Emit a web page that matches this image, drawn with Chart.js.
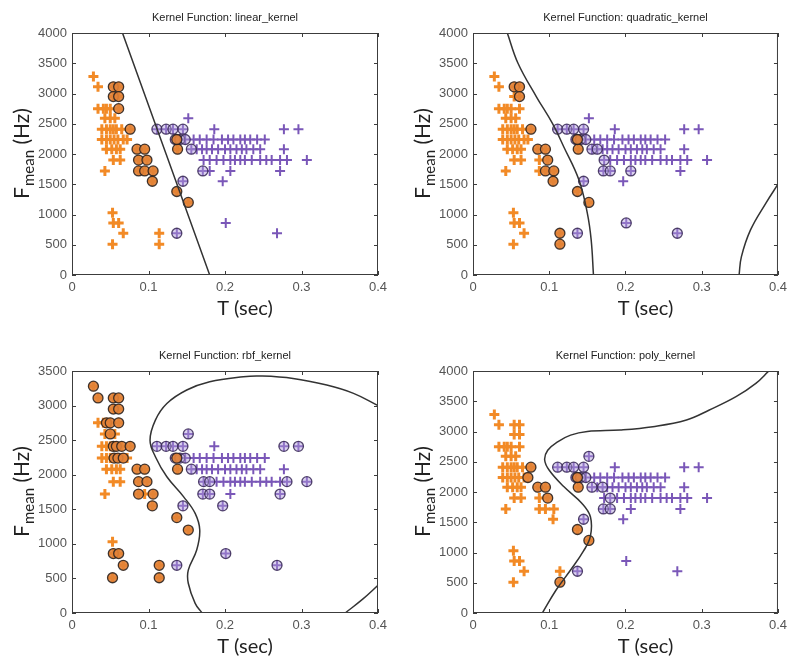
<!DOCTYPE html>
<html>
<head>
<meta charset="utf-8">
<script src="https://cdn.jsdelivr.net/npm/chart.js@4.4.0/dist/chart.umd.min.js"></script>
<style>
  html, body { margin: 0; padding: 0; background: #fff; }
  .panel { position: absolute; }
</style>
</head>
<body>
<div class="panel" style="left:0;top:0"><canvas id="c1"></canvas></div>
<div class="panel" style="left:396px;top:0"><canvas id="c2"></canvas></div>
<div class="panel" style="left:0;top:328px"><canvas id="c3"></canvas></div>
<div class="panel" style="left:396px;top:328px"><canvas id="c4"></canvas></div>
<script>
// [T (sec), Fmean (Hz)] — orange class
const classA = [
  [0.028,3280],
  [0.034,3110],[0.054,3110],[0.061,3110],
  [0.054,2950],[0.061,2950],
  [0.034,2750],[0.041,2750],[0.045,2750],[0.050,2750],[0.061,2750],
  [0.043,2590],[0.050,2590],[0.056,2590],
  [0.039,2410],[0.045,2410],[0.050,2410],[0.054,2410],[0.058,2410],[0.065,2410],[0.076,2410],
  [0.039,2240],[0.045,2240],[0.050,2240],[0.055,2240],[0.060,2240],[0.067,2240],[0.072,2240],[0.137,2240],
  [0.045,2080],[0.052,2080],[0.058,2080],[0.063,2080],[0.085,2080],[0.095,2080],[0.138,2080],
  [0.054,1900],[0.063,1900],[0.087,1900],[0.098,1900],
  [0.043,1720],[0.087,1720],[0.095,1720],[0.106,1720],
  [0.105,1550],
  [0.137,1380],
  [0.152,1200],
  [0.053,1030],
  [0.054,860],[0.061,860],
  [0.067,690],[0.114,690],
  [0.053,510],[0.114,510]
];

// purple class
const classB = [
  [0.152,2590],
  [0.111,2410],[0.123,2410],[0.132,2410],[0.145,2410],[0.186,2410],[0.277,2410],[0.296,2410],
  [0.135,2240],[0.141,2240],[0.148,2240],[0.159,2240],[0.167,2240],[0.176,2240],[0.185,2240],[0.196,2240],
  [0.204,2240],[0.211,2240],[0.220,2240],[0.226,2240],[0.233,2240],[0.242,2240],[0.252,2240],
  [0.156,2080],[0.163,2080],[0.170,2080],[0.176,2080],[0.183,2080],[0.191,2080],[0.200,2080],[0.207,2080],
  [0.215,2080],[0.222,2080],[0.228,2080],[0.237,2080],[0.246,2080],[0.277,2080],
  [0.172,1900],[0.180,1900],[0.189,1900],[0.198,1900],[0.207,1900],[0.213,1900],[0.220,1900],[0.226,1900],
  [0.235,1900],[0.246,1900],[0.254,1900],[0.261,1900],[0.272,1900],[0.281,1900],[0.307,1900],
  [0.171,1720],[0.180,1720],[0.207,1720],[0.272,1720],
  [0.145,1550],[0.197,1550],
  [0.201,860],
  [0.137,690],[0.268,690]
];

// support vectors per kernel
const svA_linear = [[0.054,3110],[0.061,3110],[0.054,2950],[0.061,2950],[0.061,2750],[0.076,2410],[0.085,2080],[0.095,2080],
  [0.087,1900],[0.098,1900],[0.087,1720],[0.095,1720],[0.106,1720],[0.105,1550],[0.137,1380],[0.152,1200],[0.138,2080],[0.137,2240]];
const svB_linear = [[0.111,2410],[0.123,2410],[0.132,2410],[0.145,2410],[0.135,2240],[0.141,2240],[0.148,2240],[0.156,2080],
  [0.171,1720],[0.145,1550],[0.137,690]];

const svA_quad = [[0.054,3110],[0.061,3110],[0.061,2950],[0.076,2410],[0.085,2080],[0.095,2080],[0.098,1900],[0.095,1720],
  [0.106,1720],[0.105,1550],[0.137,1380],[0.152,1200],[0.114,690],[0.114,510],[0.138,2080],[0.137,2240]];
const svB_quad = [[0.111,2410],[0.123,2410],[0.132,2410],[0.145,2410],[0.135,2240],[0.141,2240],[0.148,2240],[0.156,2080],
  [0.163,2080],[0.172,1900],[0.171,1720],[0.180,1720],[0.207,1720],[0.145,1550],[0.201,860],[0.137,690],[0.268,690]];

const svA_rbf = [[0.028,3280],[0.034,3110],[0.054,3110],[0.061,3110],[0.054,2950],[0.061,2950],[0.045,2750],[0.050,2750],
  [0.061,2750],[0.050,2590],[0.054,2410],[0.058,2410],[0.065,2410],[0.076,2410],[0.055,2240],[0.060,2240],[0.067,2240],
  [0.085,2080],[0.095,2080],[0.138,2080],[0.137,2240],[0.087,1900],[0.098,1900],[0.087,1720],[0.106,1720],[0.105,1550],
  [0.137,1380],[0.152,1200],[0.054,860],[0.061,860],[0.067,690],[0.114,690],[0.053,510],[0.114,510]];
const svB_rbf = [[0.152,2590],[0.111,2410],[0.123,2410],[0.132,2410],[0.145,2410],[0.277,2410],[0.296,2410],[0.135,2240],
  [0.141,2240],[0.148,2240],[0.156,2080],[0.172,1900],[0.180,1900],[0.281,1900],[0.307,1900],[0.171,1720],[0.180,1720],
  [0.272,1720],[0.145,1550],[0.197,1550],[0.201,860],[0.137,690],[0.268,690]];

const svA_poly = [[0.076,2410],[0.072,2240],[0.085,2080],[0.095,2080],[0.098,1900],[0.138,2080],[0.137,2240],[0.137,1380],
  [0.152,1200],[0.114,510]];
const svB_poly = [[0.152,2590],[0.111,2410],[0.123,2410],[0.132,2410],[0.145,2410],[0.135,2240],[0.141,2240],[0.148,2240],
  [0.156,2080],[0.170,2080],[0.180,1900],[0.171,1720],[0.180,1720],[0.145,1550],[0.137,690]];

// decision boundaries
const boundaryLinear = [[0.066,4000],[0.180,0]];
const boundaryQuadLeft = [[0.045,4000],[0.059,3500],[0.083,2950],[0.104,2510],[0.119,2120],[0.139,1570],[0.150,1020],[0.155,580],[0.158,0]];
const boundaryQuadRight = [[0.400,1500],[0.384,1185],[0.364,745],[0.352,300],[0.349,0]];
const boundaryRbfMain = [[0.170,0],[0.161,140],[0.152,430],[0.152,620],[0.163,910],[0.167,1200],[0.161,1440],[0.146,1680],
  [0.124,1970],[0.109,2260],[0.102,2500],[0.109,2790],[0.124,3030],[0.150,3225],[0.180,3345],[0.224,3417],[0.246,3427],
  [0.289,3393],[0.333,3297],[0.368,3177],[0.400,3000]];
const boundaryRbfRight = [[0.357,0],[0.380,200],[0.400,400]];
const boundaryPoly = [[0.091,0],[0.109,380],[0.128,710],[0.145,1025],[0.154,1270],[0.154,1590],[0.143,1810],[0.119,2090],
  [0.100,2360],[0.094,2530],[0.098,2690],[0.111,2830],[0.128,2940],[0.150,3000],[0.193,3025],[0.236,3080],[0.280,3190],
  [0.310,3355],[0.345,3575],[0.371,3795],[0.388,4000]];

const xTickStep = 0.1;
const yTickStep = 500;

const ORANGE = '#f28a26';
const PURPLE = '#7a57b8';

const pts = arr => arr.map(([x, y]) => ({ x, y }));

// frame, inward ticks, titles
const decor = {
  id: 'decor',
  afterDraw(chart, args, opts) {
    const { ctx, chartArea: a, scales } = chart;
    ctx.save();
    ctx.strokeStyle = '#3c3c3c';
    ctx.lineWidth = 1;
    ctx.strokeRect(a.left + 0.5, a.top + 0.5, a.right - a.left - 1, a.bottom - a.top - 1);
    ctx.beginPath();
    scales.x.ticks.forEach(t => {
      const px = Math.round(scales.x.getPixelForValue(t.value)) + 0.5;
      ctx.moveTo(px, a.bottom); ctx.lineTo(px, a.bottom - 4);
      ctx.moveTo(px, a.top); ctx.lineTo(px, a.top + 4);
    });
    scales.y.ticks.forEach(t => {
      const py = Math.round(scales.y.getPixelForValue(t.value)) + 0.5;
      ctx.moveTo(a.left, py); ctx.lineTo(a.left + 4, py);
      ctx.moveTo(a.right, py); ctx.lineTo(a.right - 4, py);
    });
    ctx.stroke();

    const cx = (a.left + a.right) / 2;
    ctx.fillStyle = '#222';
    ctx.textAlign = 'center';
    ctx.textBaseline = 'middle';
    ctx.font = '11px "Liberation Sans", Arial, sans-serif';
    ctx.fillText(opts.title, cx, a.top - 15);

    ctx.font = '20px Lato, "Open Sans", sans-serif';
    ctx.fillText('T (sec)', cx + 20, a.bottom + 34);

    // F with subscript "mean", rotated
    ctx.translate(a.left - 43, (a.top + a.bottom) / 2);
    ctx.rotate(-Math.PI / 2);
    ctx.textAlign = 'left';
    ctx.textBaseline = 'alphabetic';
    const big = '21px Lato, "Open Sans", sans-serif';
    const small = '15px Lato, "Open Sans", sans-serif';
    ctx.font = big; const wF = ctx.measureText('F').width;
    ctx.font = small; const wM = ctx.measureText('mean').width;
    ctx.font = big; const wH = ctx.measureText(' (Hz)').width;
    let x0 = -(wF + wM + wH) / 2;
    ctx.font = big; ctx.fillText('F', x0, 0);
    ctx.font = small; ctx.fillText('mean', x0 + wF + 1, 5);
    ctx.font = big; ctx.fillText(' (Hz)', x0 + wF + wM + 1, 0);
    ctx.restore();
  }
};

function makePanel(id, title, yMax, box, boundaries, svA, svB) {
  const W = 396, H = box.h;
  const canvas = document.getElementById(id);
  canvas.width = W; canvas.height = H;
  const datasets = [];
  boundaries.forEach(b => datasets.push({
    data: pts(b), showLine: true, pointRadius: 0, borderColor: '#333', borderWidth: 1.5,
    tension: 0.4, fill: false, order: 0
  }));
  datasets.push({
    data: pts(svA), pointStyle: 'circle', pointRadius: 5, borderWidth: 1.3,
    borderColor: 'rgba(35,30,30,0.85)', backgroundColor: 'rgba(226,130,55,0.9)', order: 1
  });
  datasets.push({
    data: pts(svB), pointStyle: 'circle', pointRadius: 5, borderWidth: 1.3,
    borderColor: 'rgba(55,40,85,0.85)', backgroundColor: 'rgba(175,155,220,0.45)', order: 1
  });
  datasets.push({
    data: pts(classA), pointStyle: 'cross', pointRadius: 5, borderWidth: 3,
    borderColor: ORANGE, backgroundColor: ORANGE, order: 2
  });
  datasets.push({
    data: pts(classB), pointStyle: 'cross', pointRadius: 5, borderWidth: 2,
    borderColor: PURPLE, backgroundColor: PURPLE, order: 2
  });

  new Chart(canvas.getContext('2d'), {
    type: 'scatter',
    data: { datasets },
    options: {
      responsive: false,
      animation: false,
      events: [],
      layout: { padding: { left: 0, top: box.top, right: W - box.right, bottom: 0 } },
      plugins: { legend: { display: false }, tooltip: { enabled: false }, decor: { title } },
      scales: {
        x: {
          type: 'linear', min: 0, max: 0.4,
          grid: { display: false, drawTicks: false }, border: { display: false },
          ticks: {
            stepSize: xTickStep, padding: 5, color: '#555',
            font: { family: '"Liberation Sans", Arial, sans-serif', size: 13 },
            callback: v => String(Math.round(v * 10) / 10)
          },
          afterFit: s => { s.height = H - box.bottom; }
        },
        y: {
          type: 'linear', min: 0, max: yMax,
          grid: { display: false, drawTicks: false }, border: { display: false },
          ticks: {
            stepSize: yTickStep, padding: 5, color: '#555',
            font: { family: '"Liberation Sans", Arial, sans-serif', size: 13 },
            callback: v => String(v)
          },
          afterFit: s => { s.width = box.left; }
        }
      }
    },
    plugins: [decor]
  });
}

makePanel('c1', 'Kernel Function: linear_kernel', 4000, { h: 328, left: 72, top: 33, right: 378, bottom: 275 },
  [boundaryLinear], svA_linear, svB_linear);
makePanel('c2', 'Kernel Function: quadratic_kernel', 4000, { h: 328, left: 77, top: 33, right: 385, bottom: 275 },
  [boundaryQuadLeft, boundaryQuadRight], svA_quad, svB_quad);
makePanel('c3', 'Kernel Function: rbf_kernel', 3500, { h: 329, left: 72, top: 43, right: 378, bottom: 285 },
  [boundaryRbfMain, boundaryRbfRight], svA_rbf, svB_rbf);
makePanel('c4', 'Kernel Function: poly_kernel', 4000, { h: 329, left: 77, top: 43, right: 385, bottom: 285 },
  [boundaryPoly], svA_poly, svB_poly);
</script>
</body>
</html>
